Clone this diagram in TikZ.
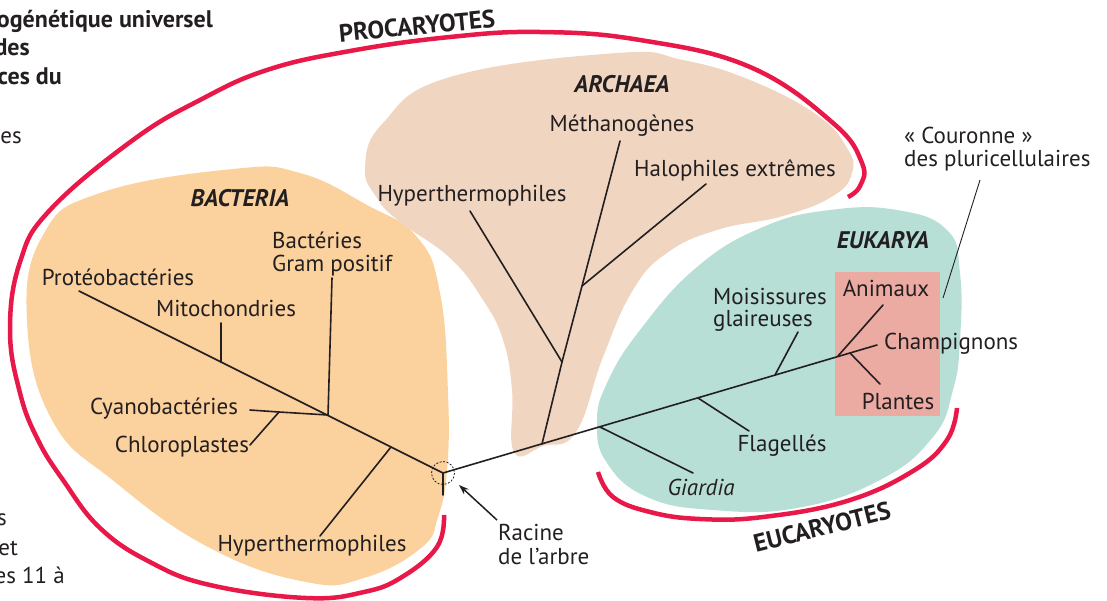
\documentclass[tikz,border=0pt]{standalone}
\usepackage{fontspec}
\setmainfont{PT Sans}
\usetikzlibrary{arrows.meta}
\definecolor{bactfill}{RGB}{251,209,158}
\definecolor{archfill}{RGB}{240,214,193}
\definecolor{eukfill}{RGB}{183,223,214}
\definecolor{crownfill}{RGB}{235,170,162}
\definecolor{procred}{RGB}{232,24,72}
\definecolor{ink}{RGB}{35,31,32}
\begin{document}
\begin{tikzpicture}[x=1pt,y=-1pt,
  lbl/.style={inner sep=0pt, text=ink, font=\fontsize{23}{26}\selectfont},
  grp/.style={inner sep=0pt, text=ink, font=\fontsize{24}{26}\selectfont\bfseries\itshape},
  dom/.style={inner sep=0pt, text=ink, font=\fontsize{25}{28}\selectfont\bfseries},
  frag/.style={inner sep=0pt, text=ink, anchor=base east, font=\fontsize{23}{26}\selectfont},
  fragb/.style={frag, font=\fontsize{24}{26}\selectfont\bfseries},
  branch/.style={draw=ink, line width=1.6pt, line cap=round},
  redarc/.style={draw=procred, line width=4.5pt},
  blob/.style={smooth cycle, tension=0.75}]
\useasboundingbox (0,0) rectangle (1107,600);
\clip (0,0) rectangle (1107,600);

% ---- coloured areas ----
\fill[bactfill] plot[blob] coordinates {(233,169) (300,173) (367,205) (417,237) (440,293) (448,393) (447,470) (438,517) (421,548) (364,578) (306,582) (210,548) (115,482) (52,420) (27,320) (43,235) (100,193)};
\fill[archfill] plot[blob] coordinates {(617,53) (683,60) (750,80) (817,115) (847,148) (852,173) (833,196) (783,216) (717,230) (667,253) (633,290) (603,357) (576,432) (543,446) (514,452) (512,390) (503,340) (483,300) (450,258) (400,222) (377,198) (365,167) (383,123) (450,77)};
\fill[eukfill] plot[blob] coordinates {(897,210) (947,230) (960,273) (960,340) (953,390) (933,437) (880,480) (797,508) (713,510) (647,497) (607,463) (597,423) (607,383) (640,330) (697,267) (763,227) (830,210)};
\fill[crownfill] (835,272) rectangle (940,416);

% ---- red brackets ----
\draw[redarc] plot[smooth, tension=0.7] coordinates {(444,515) (437,547) (402,577) (364,592) (306,598) (210,585) (150,562) (100,528) (63,480) (38,440) (20,393) (10,330) (20,262) (50,210) (133,140) (200,100) (267,70) (350,51) (450,37) (540,32) (640,40) (750,67) (833,123) (862,163) (860,186) (848,197)};
\draw[redarc] plot[smooth, tension=0.7] coordinates {(598,472) (613,497) (650,512) (700,519) (763,517) (847,501) (913,471) (947,440) (957,408)};

% ---- tree coordinates ----
\coordinate (R) at (443,473);
\coordinate (Rs) at (443,495);
\coordinate (Pend) at (79,291);
\coordinate (Jmito) at (221,362);
\coordinate (Mitoend) at (221,323);
\coordinate (Jgram) at (328,415);
\coordinate (Gramend) at (332,278);
\coordinate (Cyend) at (250,410);
\coordinate (Jchl) at (279,412);
\coordinate (Chlend) at (250,445);
\coordinate (Jhyb) at (391,447);
\coordinate (Hybend) at (320,536);
\coordinate (A0) at (542,444);
\coordinate (A1) at (562,362);
\coordinate (A2) at (582,286);
\coordinate (Metend) at (620,141);
\coordinate (Hyaend) at (470,211);
\coordinate (Halend) at (706,184);
\coordinate (Jgia) at (600,427);
\coordinate (Giaend) at (693,473);
\coordinate (Jfla) at (698,398);
\coordinate (Flaend) at (749,431);
\coordinate (Jmoi) at (775,375);
\coordinate (Moiend) at (798,332);
\coordinate (Jani) at (838,356);
\coordinate (Aniend) at (883,305);
\coordinate (Jpla) at (850,353);
\coordinate (Plaend) at (880,384);
\coordinate (Chaend) at (877,345);
\coordinate (Coutop) at (980,180);
\coordinate (Coubot) at (943,298);
\coordinate (Rarr) at (497,520);
\coordinate (Rtip) at (459,485);

% ---- tree ----
\draw[branch] (Pend) -- (R) -- (Rs);
\draw[branch] (Jmito) -- (Mitoend);
\draw[branch] (Jgram) -- (Gramend);
\draw[branch] (Jgram) -- (Jchl) -- (Cyend);
\draw[branch] (Jchl) -- (Chlend);
\draw[branch] (Jhyb) -- (Hybend);
\draw[branch] (R) -- (Chaend);
\draw[branch] (A0) -- (A1) -- (A2) -- (Metend);
\draw[branch] (A1) -- (Hyaend);
\draw[branch] (A2) -- (Halend);
\draw[branch] (Jgia) -- (Giaend);
\draw[branch] (Jfla) -- (Flaend);
\draw[branch] (Jmoi) -- (Moiend);
\draw[branch] (Jani) -- (Aniend);
\draw[branch] (Jpla) -- (Plaend);
\draw[draw=ink, line width=0.9pt] (Coutop) -- (Coubot);
\draw[draw=ink, line width=0.8pt, dash pattern=on 2pt off 1.6pt] (R) circle (11.5);
\draw[draw=ink, line width=1.5pt, -{Stealth[length=10pt,width=7pt]}] (Rarr) -- (Rtip);

% ---- labels ----
\node[dom, rotate=5.5] (tPro) at (417,26) {PROCARYOTES};
\node[dom, rotate=14] (tEuc) at (822,527) {EUCARYOTES};
\node[grp] (tArc) at (622,84) {ARCHAEA};
\node[grp] (tBac) at (240,198) {BACTERIA};
\node[grp] (tEuk) at (883,240) {EUKARYA};

\node[lbl] (lMet) at (622,126) {Méthanogènes};
\node[lbl] (lHal) at (735,170) {Halophiles extrêmes};
\node[lbl] (lHya) at (472,196) {Hyperthermophiles};

\node[lbl, anchor=west] (lBa1) at (272,240) {Bactéries};
\node[lbl, anchor=west] (lBa2) at (272,266) {Gram positif};
\node[lbl] (lPro) at (118,277) {Protéobactéries};
\node[lbl] (lMit) at (226,308) {Mitochondries};
\node[lbl] (lCya) at (164,409) {Cyanobactéries};
\node[lbl] (lChl) at (182,447) {Chloroplastes};
\node[lbl] (lHyb) at (312,546) {Hyperthermophiles};

\node[lbl, anchor=west] (lRa1) at (498,532) {Racine};
\node[lbl, anchor=west] (lRa2) at (498,556) {de l’arbre};

\node[lbl, anchor=west] (lMo1) at (713,296) {Moisissures};
\node[lbl, anchor=west] (lMo2) at (713,321) {glaireuses};
\node[lbl] (lAni) at (886,288) {Animaux};
\node[lbl, anchor=west] (lCha) at (884,344) {Champignons};
\node[lbl] (lPla) at (898,401) {Plantes};
\node[lbl] (lFla) at (782,446) {Flagellés};
\node[lbl, font=\fontsize{23}{26}\selectfont\itshape] (lGia) at (701,487) {Giardia};
\node[lbl, anchor=west] (lCo1) at (904,135) {« Couronne »};
\node[lbl, anchor=west] (lCo2) at (904,161) {des pluricellulaires};

% ---- fragments of the surrounding page text ----
\node[fragb] (f1) at (213,27) {ogénétique universel};
\node[fragb] (f2) at (30,55) {des};
\node[fragb] (f3) at (62,84) {ces du};
\node[frag] (f4) at (22,143) {es};
\node[frag] (f5) at (7,525) {s};
\node[frag] (f6) at (18,555) {et};
\node[frag] (f7) at (65,583) {es 11 à};
\end{tikzpicture}
\end{document}
